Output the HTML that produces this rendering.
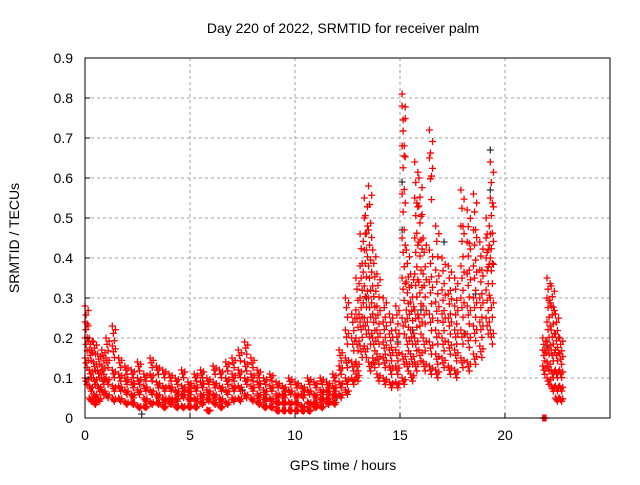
<!DOCTYPE html>
<html><head><meta charset="utf-8"><style>
body{margin:0;background:#fff;}
svg text{font-family:"Liberation Sans",sans-serif;font-size:14px;fill:#000;}
</style></head><body>
<svg id="chart" width="640" height="480" xmlns="http://www.w3.org/2000/svg">
<text x="343" y="33" text-anchor="middle">Day 220 of 2022, SRMTID for receiver palm</text>
<text x="343" y="470" text-anchor="middle">GPS time / hours</text>
<text transform="translate(19,238) rotate(-90)" text-anchor="middle">SRMTID / TECUs</text>
<g id="grid"></g><g id="marks"></g><g id="axes"></g>
</svg>
<script>
const xTicks=[0,5,10,15,20];
const yTicks=[0,0.1,0.2,0.3,0.4,0.5,0.6,0.7,0.8,0.9];
const yTickLabels=["0","0.1","0.2","0.3","0.4","0.5","0.6","0.7","0.8","0.9"];
// red series: [time, [values...]]
const redGroups=[
[0.0,[0.28,0.24,0.2,0.15,0.1]],[0.2,[0.2,0.17,0.12,0.08,0.05]],[0.4,[0.19,0.14,0.1,0.06,0.04]],
[0.6,[0.16,0.12,0.08,0.05]],[0.8,[0.17,0.13,0.1,0.07]],[1.0,[0.2,0.15,0.1,0.06]],
[1.3,[0.23,0.18,0.12,0.08,0.05]],[1.6,[0.15,0.11,0.08,0.05]],[1.9,[0.13,0.1,0.07,0.04]],
[2.2,[0.12,0.09,0.06,0.04]],[2.5,[0.14,0.1,0.07,0.03]],[2.8,[0.11,0.08,0.05,0.03]],
[3.1,[0.15,0.11,0.07,0.04]],[3.4,[0.13,0.09,0.06,0.04]],[3.7,[0.12,0.08,0.05,0.03]],
[4.0,[0.11,0.08,0.05,0.04]],[4.3,[0.1,0.07,0.05,0.03]],[4.6,[0.12,0.08,0.06,0.03]],
[4.9,[0.09,0.07,0.05,0.03]],[5.2,[0.11,0.08,0.05,0.03]],[5.5,[0.12,0.09,0.06,0.04]],
[5.8,[0.1,0.07,0.05,0.02]],[6.1,[0.13,0.09,0.06,0.04]],[6.4,[0.12,0.08,0.05,0.03]],
[6.7,[0.14,0.1,0.07,0.04]],[7.0,[0.15,0.11,0.08,0.05]],[7.3,[0.17,0.12,0.08,0.05]],
[7.6,[0.19,0.14,0.1,0.06]],[7.9,[0.15,0.11,0.08,0.05]],[8.2,[0.12,0.09,0.06,0.04]],
[8.5,[0.1,0.07,0.05,0.03]],[8.8,[0.11,0.08,0.05,0.03]],[9.1,[0.09,0.06,0.04,0.02]],
[9.4,[0.08,0.06,0.04,0.02]],[9.7,[0.1,0.07,0.04,0.02]],[10.0,[0.09,0.06,0.04,0.02]],
[10.3,[0.08,0.06,0.03,0.02]],[10.6,[0.1,0.07,0.04,0.02]],[10.9,[0.09,0.06,0.04,0.03]],
[11.2,[0.1,0.07,0.05,0.03]],[11.5,[0.09,0.07,0.05,0.04]],[11.8,[0.11,0.08,0.06,0.04]],
[12.1,[0.17,0.13,0.09,0.06]],[12.4,[0.3,0.22,0.15,0.1,0.07]],[12.7,[0.26,0.2,0.14,0.1]],
[12.9,[0.35,0.27,0.2,0.14,0.11]],[13.1,[0.46,0.38,0.3,0.24,0.18]],[13.3,[0.55,0.5,0.42,0.33,0.25,0.18]],
[13.5,[0.58,0.47,0.38,0.3,0.22,0.14]],[13.7,[0.42,0.33,0.26,0.2,0.15]],[13.9,[0.36,0.28,0.22,0.16,0.11]],
[14.2,[0.3,0.24,0.19,0.15,0.1]],[14.5,[0.26,0.21,0.17,0.13,0.09]],[14.8,[0.28,0.22,0.17,0.13,0.09]],
[15.1,[0.81,0.78,0.68,0.56,0.45,0.35,0.25,0.16,0.1]],[15.3,[0.42,0.34,0.27,0.2,0.14]],[15.5,[0.36,0.29,0.22,0.16,0.11]],
[15.7,[0.64,0.55,0.45,0.36,0.27,0.2,0.14]],[15.9,[0.6,0.53,0.44,0.34,0.25,0.17]],[16.1,[0.45,0.36,0.28,0.2,0.14]],
[16.4,[0.72,0.65,0.42,0.34,0.26,0.19,0.13]],[16.7,[0.48,0.37,0.29,0.22,0.16,0.12]],[17.0,[0.4,0.32,0.26,0.2,0.15]],
[17.3,[0.38,0.31,0.25,0.19,0.13]],[17.6,[0.35,0.28,0.22,0.17,0.12]],[17.9,[0.57,0.48,0.38,0.3,0.22,0.15]],
[18.2,[0.52,0.44,0.36,0.28,0.21,0.14]],[18.5,[0.56,0.47,0.38,0.3,0.23,0.16]],[18.8,[0.44,0.37,0.3,0.24,0.18]],
[19.1,[0.5,0.45,0.4,0.32,0.25]],[19.3,[0.64,0.55,0.46,0.4,0.3,0.22]],
[21.8,[0.2,0.17,0.13,0.0]],[22.0,[0.35,0.3,0.24,0.19,0.14,0.1]],[22.2,[0.33,0.28,0.22,0.17,0.12,0.08]],
[22.4,[0.26,0.21,0.17,0.12,0.08,0.05]],[22.6,[0.2,0.16,0.12,0.08,0.05]]
];
// dark grey series
const greyGroups=[
[2.7,[0.01]],[7.5,[0.07]],[12.0,[0.05]],[13.4,[0.3]],[14.9,[0.19]],[15.1,[0.59,0.47]],
[15.6,[0.22]],[16.0,[0.27]],[17.1,[0.44]],[18.1,[0.21]],[18.6,[0.31]],[19.3,[0.67,0.57]],[22.0,[0.18]]
];
const X0=85,X1=610,Y0=418,Y1=58,XMAX=25,YMAX=0.9;
const sx=t=>X0+(X1-X0)*t/XMAX;
const sy=v=>Y0-(Y0-Y1)*v/YMAX;
const NS="http://www.w3.org/2000/svg";
function mk(tag,attrs,parent){const e=document.createElementNS(NS,tag);for(const k in attrs)e.setAttribute(k,attrs[k]);parent.appendChild(e);return e;}
const grid=document.getElementById('grid'),marks=document.getElementById('marks'),axes=document.getElementById('axes');
xTicks.forEach(t=>{
  if(t>0){const g=mk('line',{x1:sx(t),x2:sx(t),y1:Y1,y2:Y0,stroke:'#a0a0a0','stroke-dasharray':'3,3'},grid);
  
  }
  const tk=mk('line',{x1:sx(t),x2:sx(t),y1:Y0,y2:Y0-5,stroke:'#000'},axes);
  
  
  const l=mk('text',{x:sx(t),y:Y0+22,'text-anchor':'middle'},axes);l.textContent=t;
  
  
});
yTicks.forEach((v,i)=>{
  if(v>0&&v<YMAX){const g=mk('line',{x1:X0,x2:X1,y1:sy(v),y2:sy(v),stroke:'#a0a0a0','stroke-dasharray':'3,3'},grid);
  
  }
  const tk=mk('line',{x1:X0,x2:X0+5,y1:sy(v),y2:sy(v),stroke:'#000'},axes);
  
  
  const l=mk('text',{x:X0-12,y:sy(v)+5,'text-anchor':'end'},axes);l.textContent=yTickLabels[i];
  
  
});
const frame=mk('rect',{x:X0,y:Y1,width:X1-X0,height:Y0-Y1,fill:'none',stroke:'#000'},axes);


function plus(t,v,color,name){
  const x=sx(t),y=sy(v);
  const p=mk('path',{d:`M${x-3.5},${y}h7M${x},${y-3.5}v7`,stroke:color,'stroke-width':1.3,fill:'none'},marks);
  
  
}
greyGroups.forEach(g=>g[1].forEach(v=>plus(g[0],v,'#333','grey-point')));
const spreadT=[0,0.05,0.1,0.15], spreadV=[1,0.92,0.84,0.96];
redGroups.forEach(g=>g[1].forEach(v=>{
  spreadT.forEach((dt,k)=>plus(g[0]+dt,v*spreadV[k],'#f00','red-point'));
}));
</script>
</body></html>
